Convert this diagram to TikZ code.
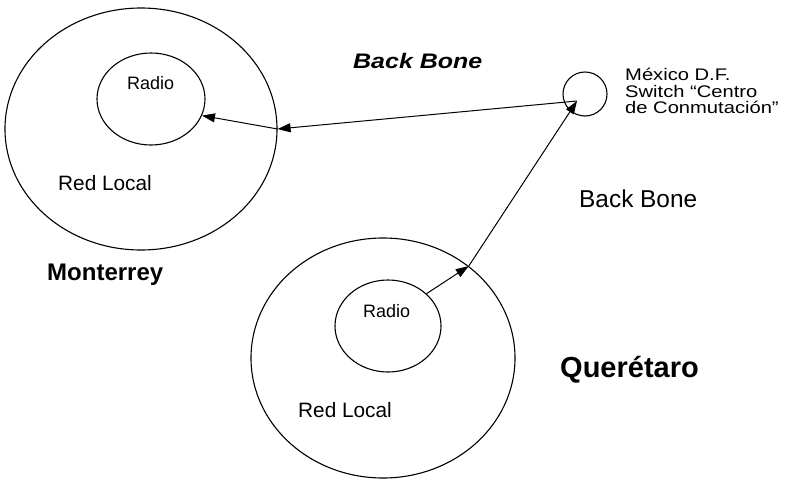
\documentclass[tikz,border=0pt]{standalone}
\usepackage{fontspec}
\setmainfont{Liberation Sans}
\usetikzlibrary{shapes.geometric,arrows.meta}
\begin{document}
\begin{tikzpicture}[x=1pt,y=-1pt,
  zone/.style={draw,ellipse,inner sep=0pt,line width=1.1pt},
  link/.style={line width=1pt,-{Triangle[length=13pt,width=9pt]}},
  lbl/.style={anchor=base west,inner sep=0pt},
  fs/.style={font=\fontsize{#1}{#1}\selectfont}]
\useasboundingbox (0,0) rectangle (786,482);
% Monterrey
\node[zone,minimum width=272pt,minimum height=242pt] (mout) at (141,129) {};
\node[zone,minimum width=108pt,minimum height=92pt] (min) at (151,99) {};
\node[lbl,fs=18] (mradio) at (127,89) {Radio};
\node[lbl,fs=20.8] (mred) at (58,190) {Red Local};
\node[lbl,font=\fontsize{24}{24}\selectfont\bfseries] (mty) at (47,280) {Monterrey};
% Queretaro
\node[zone,minimum width=264pt,minimum height=240pt] (qout) at (383,358) {};
\node[zone,minimum width=106pt,minimum height=92pt] (qin) at (388,326) {};
\node[lbl,fs=18] (qradio) at (363,317) {Radio};
\node[lbl,fs=20.8] (qred) at (298,417) {Red Local};
\node[lbl,font=\fontsize{29}{29}\selectfont\bfseries] (qro) at (560,377) {Querétaro};
% Switch
\node[draw,circle,minimum size=44pt,inner sep=0pt,line width=1.1pt] (sw) at (585,94) {};
\coordinate (swin) at (577,101);
\node[lbl,fs=16.8] (mx1) at (625,80) {\scalebox{1.2}[1]{México D.F.}};
\node[lbl,fs=16.8] (mx2) at (625,97) {\scalebox{1.2}[1]{Switch “Centro}};
\node[lbl,fs=16.8] (mx3) at (625,113) {\scalebox{1.2}[1]{de Conmutación”}};
% Back bone labels
\node[lbl,font=\fontsize{21}{21}\selectfont\bfseries\itshape] (bb1) at (353,68) {\scalebox{1.19}[1]{Back Bone}};
\node[lbl,fs=24.4] (bb2) at (579,207) {Back Bone};
% links
\draw[link] (swin) -- (mout.0);
\draw[link] (mout.0) -- (min.-18);
\draw[link] (qin.40) -- (qout.47);
\draw[link] (qout.47) -- (swin);
\end{tikzpicture}
\end{document}
